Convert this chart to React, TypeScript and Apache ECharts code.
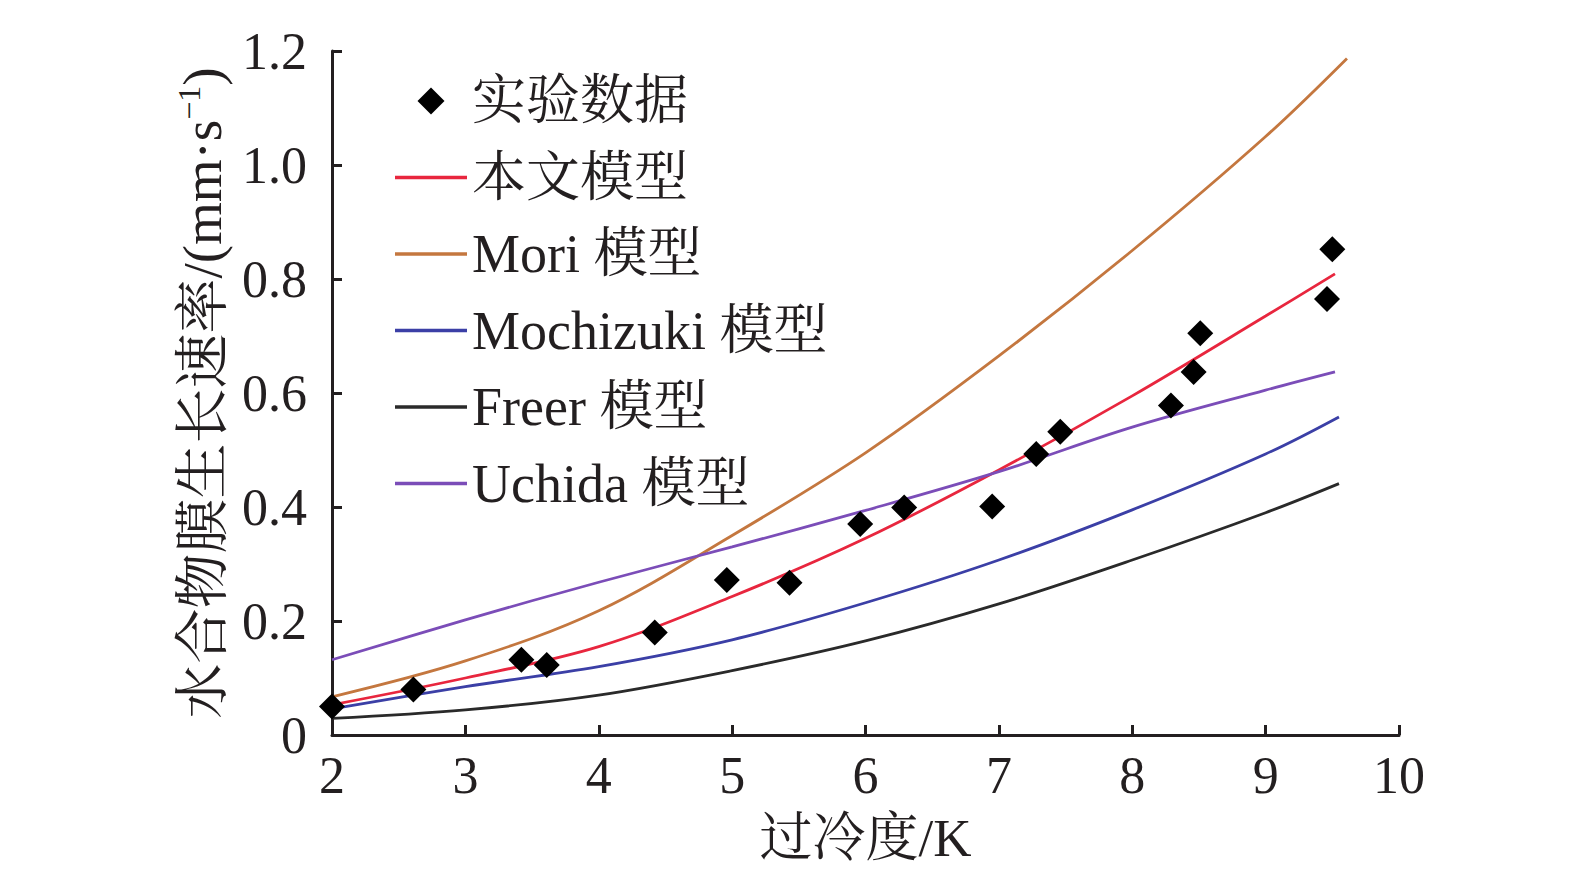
import React, { useEffect, useRef } from "react";
import * as echarts from "echarts";

const FONT = "'Liberation Serif', 'Times New Roman', 'Noto Serif CJK SC', 'Noto Sans CJK SC', serif";
const INK = "#231f20";

// Experimental data (过冷度 K, growth rate mm/s)
const expX = [2.0, 2.61, 3.42, 3.61, 4.42, 4.96, 5.43, 5.96, 6.29, 6.95, 7.28, 7.46, 8.29, 8.46, 8.51, 9.46, 9.5];
const expY = [0.05, 0.08, 0.132, 0.123, 0.18, 0.272, 0.267, 0.37, 0.399, 0.401, 0.493, 0.532, 0.578, 0.637, 0.705, 0.765, 0.852];

// Model curves
const oursX = [2, 3, 4, 5, 6, 7, 8, 9, 9.52];
const oursY = [0.053, 0.1, 0.155, 0.243, 0.345, 0.465, 0.595, 0.735, 0.809];

const moriX = [2, 3, 4, 5, 6, 7, 8, 9, 9.61];
const moriY = [0.067, 0.13, 0.218, 0.35, 0.495, 0.665, 0.85, 1.05, 1.187];

const mochiX = [2, 3, 4, 5, 6, 7, 8, 9, 9.55];
const mochiY = [0.046, 0.085, 0.12, 0.167, 0.232, 0.307, 0.395, 0.493, 0.558];

const freerX = [2, 3, 4, 5, 6, 7, 8, 9, 9.55];
const freerY = [0.029, 0.044, 0.07, 0.113, 0.165, 0.23, 0.307, 0.39, 0.441];

const uchidaX = [2, 3, 4, 5, 6, 7, 8, 9, 9.52];
const uchidaY = [0.132, 0.202, 0.268, 0.33, 0.394, 0.462, 0.54, 0.605, 0.637];

const names = ["实验数据", "本文模型", "Mori 模型", "Mochizuki 模型", "Freer 模型", "Uchida 模型"];
const colors = ["#000000", "#e8263e", "#c4773f", "#3b3fa6", "#2a2a2a", "#7b4db8"];

const LINE_ICON = "path://M0,0 L72,0 L72,3.4 L0,3.4 Z";
const DIAMOND_ICON = "path://M12,0 L24,12 L12,24 L0,12 Z";

const zip = (xs: number[], ys: number[]) => xs.map((x, i) => [x, ys[i]]);

export default function App() {
  const ref = useRef<HTMLDivElement>(null);
  useEffect(() => {
    document.body.style.margin = "0";
    const chart = echarts.init(ref.current!, null, { renderer: "svg" });
    const lineSeries = (name: string, color: string, xs: number[], ys: number[]) => ({
      type: "line",
      name,
      data: zip(xs, ys),
      symbol: "none",
      showSymbol: false,
      smooth: 0.35,
      lineStyle: { color, width: 2.8 },
      itemStyle: { color },
      z: 2,
    });
    chart.setOption({
      animation: false,
      backgroundColor: "#ffffff",
      textStyle: { fontFamily: FONT },
      grid: { left: 332, top: 51, right: 176, bottom: 151, containLabel: false },
      legend: {
        orient: "vertical",
        left: 395,
        top: 73,
        padding: 0,
        itemWidth: 72,
        itemHeight: 27,
        itemGap: 20.5,
        symbolKeepAspect: true,
        selectedMode: false,
        data: [
          { name: names[0], icon: DIAMOND_ICON },
          { name: names[1], icon: LINE_ICON },
          { name: names[2], icon: LINE_ICON },
          { name: names[3], icon: LINE_ICON },
          { name: names[4], icon: LINE_ICON },
          { name: names[5], icon: LINE_ICON },
        ],
        textStyle: { fontFamily: FONT, fontSize: 54, lineHeight: 56, color: INK },
      },
      xAxis: {
        type: "value",
        min: 2,
        max: 10,
        interval: 1,
        name: "过冷度/K",
        nameLocation: "middle",
        nameGap: 76,
        nameTextStyle: { fontFamily: FONT, fontSize: 53, color: INK },
        axisLine: { lineStyle: { color: INK, width: 3 } },
        axisTick: { inside: true, length: 10, lineStyle: { color: INK, width: 3 } },
        axisLabel: { margin: 14, fontFamily: FONT, fontSize: 52, color: INK },
        splitLine: { show: false },
      },
      yAxis: {
        type: "value",
        min: 0,
        max: 1.2,
        interval: 0.2,
        name: "水合物膜生长速率/(mm·s{sup|−1})",
        nameLocation: "middle",
        nameRotate: 90,
        nameGap: 100,
        nameTextStyle: {
          fontFamily: FONT,
          fontSize: 55,
          lineHeight: 58,
          color: INK,
          rich: { sup: { fontFamily: FONT, fontSize: 32, lineHeight: 58, verticalAlign: "top", color: INK } },
        },
        axisLine: { show: true, lineStyle: { color: INK, width: 3 } },
        axisTick: { show: true, inside: true, length: 10, lineStyle: { color: INK, width: 3 } },
        axisLabel: {
          margin: 25,
          fontFamily: FONT,
          fontSize: 52,
          color: INK,
          padding: [0, 0, 8, 0],
          formatter: (v: number) => (v === 0 ? "0" : v.toFixed(1)),
        },
        splitLine: { show: false },
      },
      series: [
        {
          type: "scatter",
          name: names[0],
          data: zip(expX, expY),
          symbol: "diamond",
          symbolSize: 26,
          itemStyle: { color: colors[0], opacity: 1 },
          z: 5,
        },
        lineSeries(names[1], colors[1], oursX, oursY),
        lineSeries(names[2], colors[2], moriX, moriY),
        lineSeries(names[3], colors[3], mochiX, mochiY),
        lineSeries(names[4], colors[4], freerX, freerY),
        lineSeries(names[5], colors[5], uchidaX, uchidaY),
      ],
    });
    return () => chart.dispose();
  }, []);
  return <div ref={ref} style={{ width: 1575, height: 886, background: "#fff" }} />;
}
